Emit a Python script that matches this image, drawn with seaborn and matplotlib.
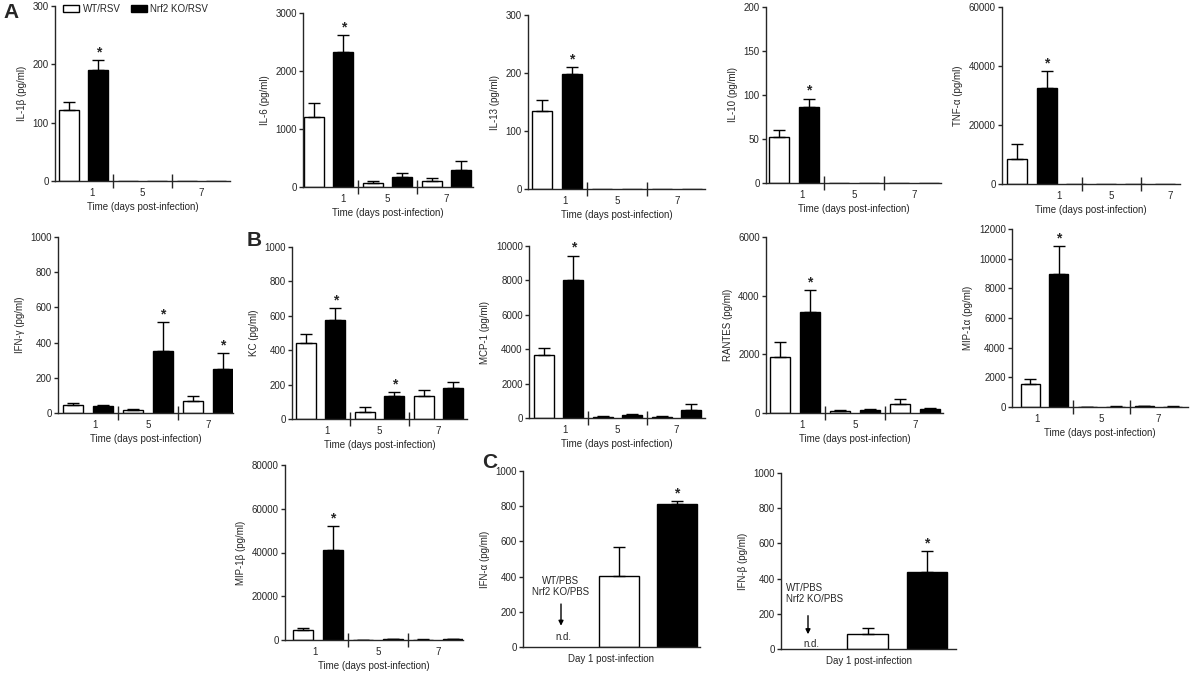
import numpy as np
import pandas as pd
import seaborn as sns
import matplotlib
matplotlib.use('Agg')
from matplotlib import pyplot as plt

# ---- data (pg/ml, mean and SEM), order: day 1, 5, 7 ----
days = ['1', '5', '7']
groups = ['WT/RSV', 'Nrf2 KO/RSV']

il1b_wt = [121, 0, 0]
il1b_wt_err = [15, 0, 0]
il1b_ko = [191, 0, 0]
il1b_ko_err = [16, 0, 0]

il6_wt = [1210, 75, 105]
il6_wt_err = [230, 30, 45]
il6_ko = [2330, 165, 295]
il6_ko_err = [295, 85, 160]

il13_wt = [134, 0, 0]
il13_wt_err = [20, 0, 0]
il13_ko = [198, 0, 0]
il13_ko_err = [12, 0, 0]

il10_wt = [52, 0, 0]
il10_wt_err = [8, 0, 0]
il10_ko = [86, 0, 0]
il10_ko_err = [10, 0, 0]

tnf_wt = [8500, 0, 0]
tnf_wt_err = [5200, 0, 0]
tnf_ko = [32700, 0, 0]
tnf_ko_err = [5600, 0, 0]

ifng_wt = [47, 15, 66]
ifng_wt_err = [10, 9, 28]
ifng_ko = [38, 354, 252]
ifng_ko_err = [7, 161, 89]

kc_wt = [440, 43, 133]
kc_wt_err = [57, 29, 34]
kc_ko = [575, 135, 181]
kc_ko_err = [72, 23, 34]

mcp1_wt = [3690, 70, 60]
mcp1_wt_err = [390, 30, 30]
mcp1_ko = [8020, 200, 480]
mcp1_ko_err = [1420, 60, 330]

rantes_wt = [1900, 60, 305]
rantes_wt_err = [520, 30, 170]
rantes_ko = [3440, 100, 135]
rantes_ko_err = [750, 30, 40]

mip1a_wt = [1520, 15, 60]
mip1a_wt_err = [340, 10, 20]
mip1a_ko = [9000, 30, 25]
mip1a_ko_err = [1870, 10, 10]

mip1b_wt = [4600, 150, 200]
mip1b_wt_err = [1000, 50, 50]
mip1b_ko = [41000, 250, 250]
mip1b_ko_err = [11000, 50, 50]

# panel C, day 1 only
ifna_vals = [403, 812]
ifna_errs = [165, 16]
ifnb_vals = [85, 440]
ifnb_errs = [35, 118]
day1_slots = ['PBS', 'WT/RSV', 'Nrf2 KO/RSV']

palette = {'WT/RSV': 'white', 'Nrf2 KO/RSV': 'black'}

sns.set_style('ticks')
plt.rcParams['font.family'] = ['Liberation Sans', 'DejaVu Sans']
plt.rcParams['font.size'] = 7
plt.rcParams['axes.linewidth'] = 1.0

W, H = 1192, 674
fig = plt.figure(figsize=(W / 100, H / 100), dpi=100)


def add_ax(x0, x1, y_bottom, y_top):
    return fig.add_axes([x0 / W, 1 - y_bottom / H, (x1 - x0) / W, (y_bottom - y_top) / H])


def style_y(ax, ymax, ystep, ylabel):
    ax.set_ylim(0, ymax)
    ax.set_yticks(np.arange(0, ymax + 1, ystep))
    ax.tick_params(axis='y', length=3, width=1, pad=1.5, labelsize=7)
    ax.set_ylabel(ylabel, fontsize=7, labelpad=4)
    sns.despine(ax=ax)


def add_errors(ax, df, order_cols, stars):
    bars = sorted(ax.patches, key=lambda p: p.get_x())
    rows = df.sort_values(order_cols)
    for p, (_, r) in zip(bars, rows.iterrows()):
        xc = p.get_x() + p.get_width() / 2
        if r['err'] > 0:
            ax.errorbar(xc, r['value'], yerr=[[0], [r['err']]], fmt='none', ecolor='black',
                        elinewidth=1, capsize=4.5, capthick=1)
        if (r['day'], r['group']) in stars:
            ax.annotate('*', (xc, r['value'] + r['err']), xytext=(0, 0.5), textcoords='offset points',
                        ha='center', va='bottom', fontsize=10, fontweight='bold', annotation_clip=False)


def time_panel(box, ylabel, wt, wt_err, ko, ko_err, stars, ymax, ystep):
    # box in pixels: y-axis x, divider 1, divider 2, x-axis end, zero y, top y,
    # day-1 label x, centre of the day-1 bar pair (None = middle of group)
    axis_x, div1, div2, end, zero_y, top_y, lab1, c0 = box
    g = div2 - div1
    if c0 is None:
        c0 = div1 - g / 2

    def u(px):
        return (px - c0) / g

    ax = add_ax(axis_x, end, zero_y, top_y)
    df = pd.DataFrame({'day': days * 2,
                       'group': [groups[0]] * 3 + [groups[1]] * 3,
                       'value': wt + ko,
                       'err': wt_err + ko_err})
    sns.barplot(data=df, x='day', y='value', hue='group', order=days, hue_order=groups,
                palette=palette, edgecolor='black', linewidth=1, width=1.0, gap=0.32,
                errorbar=None, legend=False, ax=ax)
    df['d'] = df['day'].map(days.index)
    df['g'] = df['group'].map(groups.index)
    add_errors(ax, df, ['d', 'g'], stars)
    ax.set_xlim(u(axis_x), u(end))
    ax.set_xticks([u(lab1), u((div1 + div2) / 2), u(div2 + g / 2)], days)
    ax.set_xticks([u(div1), u(div2)], minor=True)
    ax.tick_params(axis='x', which='major', length=0, pad=5, labelsize=7)
    ax.tick_params(axis='x', which='minor', direction='inout', length=10, width=1)
    ax.set_xlabel('Time (days post-infection)', fontsize=7, labelpad=3)
    style_y(ax, ymax, ystep, ylabel)
    return ax


def day1_panel(box, ylabel, vals, errs, nd):
    axis_x, slot0, step, end, zero_y, top_y = box
    ax = add_ax(axis_x, end, zero_y, top_y)
    df = pd.DataFrame({'day': ['1', '1'], 'group': groups, 'value': vals, 'err': errs})
    sns.barplot(data=df, x='group', y='value', hue='group', order=day1_slots, hue_order=groups,
                palette=palette, edgecolor='black', linewidth=1, width=0.68, dodge=False,
                errorbar=None, legend=False, ax=ax)
    df['g'] = df['group'].map(groups.index)
    add_errors(ax, df, ['g'], [('1', groups[1])])
    ax.set_xlim((axis_x - slot0) / step, 2 + (end - slot0 - 2 * step) / step)
    ax.set_xticks([])
    ax.set_xlabel('Day 1 post-infection', fontsize=7, labelpad=5)
    style_y(ax, 1000, 200, ylabel)
    tx, ha, y1, y2, a0, a1, ynd = nd
    ax.text(tx, y1, 'WT/PBS', ha=ha, va='center', fontsize=7)
    ax.text(tx, y2, 'Nrf2 KO/PBS', ha=ha, va='center', fontsize=7)
    ax.annotate('', xy=(0, a1), xytext=(0, a0),
                arrowprops=dict(arrowstyle='-|>', color='black', lw=1, mutation_scale=7))
    ax.text(0.05, ynd, 'n.d.', ha='center', va='center', fontsize=7)
    return ax


ax_il1b = time_panel((55, 113, 172, 230, 181, 6, 92, None), 'IL-1β (pg/ml)',
                     il1b_wt, il1b_wt_err, il1b_ko, il1b_ko_err, [('1', groups[1])], 300, 100)
time_panel((303, 358, 417, 473, 187, 13, 343, None), 'IL-6 (pg/ml)',
           il6_wt, il6_wt_err, il6_ko, il6_ko_err, [('1', groups[1])], 3000, 1000)
time_panel((528, 587, 647, 705, 189, 15, 565, None), 'IL-13 (pg/ml)',
           il13_wt, il13_wt_err, il13_ko, il13_ko_err, [('1', groups[1])], 300, 100)
time_panel((766, 824, 884, 941, 183, 7, 802, None), 'IL-10 (pg/ml)',
           il10_wt, il10_wt_err, il10_ko, il10_ko_err, [('1', groups[1])], 200, 50)
time_panel((1002, 1082, 1141, 1180, 184, 7, 1059, 1032), 'TNF-α (pg/ml)',
           tnf_wt, tnf_wt_err, tnf_ko, tnf_ko_err, [('1', groups[1])], 60000, 20000)

time_panel((58, 118, 178, 233, 413, 237, 95, None), 'IFN-γ (pg/ml)',
           ifng_wt, ifng_wt_err, ifng_ko, ifng_ko_err, [('5', groups[1]), ('7', groups[1])], 1000, 200)
time_panel((292, 350, 409, 467, 419, 247, 327, None), 'KC (pg/ml)',
           kc_wt, kc_wt_err, kc_ko, kc_ko_err, [('1', groups[1]), ('5', groups[1])], 1000, 200)
time_panel((529, 588, 647, 705, 418, 246, 565, None), 'MCP-1 (pg/ml)',
           mcp1_wt, mcp1_wt_err, mcp1_ko, mcp1_ko_err, [('1', groups[1])], 10000, 2000)
time_panel((766, 825, 885, 943, 413, 237, 802, None), 'RANTES (pg/ml)',
           rantes_wt, rantes_wt_err, rantes_ko, rantes_ko_err, [('1', groups[1])], 6000, 2000)
time_panel((1012, 1073, 1130, 1188, 407, 229, 1037, None), 'MIP-1α (pg/ml)',
           mip1a_wt, mip1a_wt_err, mip1a_ko, mip1a_ko_err, [('1', groups[1])], 12000, 2000)

time_panel((285, 348, 408, 463, 640, 465, 315, None), 'MIP-1β (pg/ml)',
           mip1b_wt, mip1b_wt_err, mip1b_ko, mip1b_ko_err, [('1', groups[1])], 80000, 20000)

day1_panel((523, 561, 58, 700, 647, 471), 'IFN-α (pg/ml)', ifna_vals, ifna_errs,
           (0, 'center', 375, 310, 260, 105, 55))
day1_panel((781, 808, 59.5, 956, 649, 473), 'IFN-β (pg/ml)', ifnb_vals, ifnb_errs,
           (-0.37, 'left', 347, 284, 205, 68, 28))

# legend
bars = sorted(ax_il1b.patches, key=lambda p: p.get_x())
ax_il1b.legend(handles=bars[:2], labels=groups, loc='upper left', ncol=2, frameon=False,
               bbox_to_anchor=(63 / W, 1 - 4 / H), bbox_transform=fig.transFigure,
               fontsize=7, handlelength=1.65, handleheight=0.75, handletextpad=0.4,
               columnspacing=1.0, borderpad=0, borderaxespad=0)

for letter, x, y in [('A', 11, 12), ('B', 254, 241), ('C', 490, 463)]:
    fig.text(x / W, 1 - y / H, letter, fontsize=15, fontweight='bold', ha='center', va='center')

fig.savefig('out.png', dpi=100)
